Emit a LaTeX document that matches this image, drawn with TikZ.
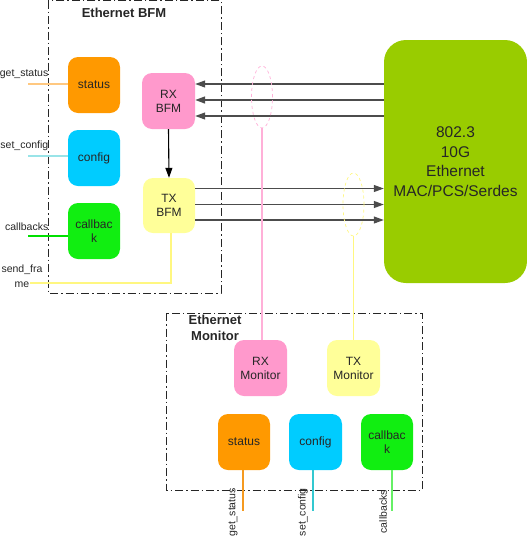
\documentclass[tikz,border=0pt]{standalone}
\usepackage{fontspec}
\setmainfont{Liberation Sans}
\usetikzlibrary{arrows.meta,shapes.geometric}
\definecolor{borange}{HTML}{FF9900}
\definecolor{bcyan}{HTML}{00CCFF}
\definecolor{bgreen}{HTML}{11EE11}
\definecolor{bpink}{HTML}{FF99CC}
\definecolor{byellow}{HTML}{FFFF99}
\definecolor{bigreen}{HTML}{99CC00}
\definecolor{lorange}{HTML}{FFC880}
\definecolor{lcyan}{HTML}{99E4E8}
\definecolor{lgreen}{HTML}{00E000}
\definecolor{morange}{HTML}{F59A20}
\definecolor{mcyan}{HTML}{33C8D0}
\definecolor{mgreen}{HTML}{66F066}
\definecolor{lpink}{HTML}{FFB0D8}
\definecolor{lyellow}{HTML}{FFF780}
\tikzset{
  blk/.style={rectangle, rounded corners=10pt, minimum width=52pt, minimum height=56pt,
    inner sep=1pt, align=center, font=\fontsize{12}{14}\selectfont, text=black!85},
  frame/.style={draw=black!85, line width=0.9pt, dash pattern=on 8pt off 3pt on 1.5pt off 3pt},
  title/.style={font=\fontsize{13}{16}\selectfont\bfseries, text=black!85, align=center},
  lbl/.style={font=\fontsize{10.5}{15}\selectfont, text=black!85, inner sep=0pt, align=center},
  bus/.style={draw=black!70, line width=1.1pt},
  tip/.style={-{Triangle[length=10pt,width=7pt]}},
  wire/.style={line width=1.2pt}
}
\begin{document}
\begin{tikzpicture}[x=1pt,y=-1pt]
\useasboundingbox (0,0) rectangle (527,539);
% frames
\draw[frame] (48,0.6) rectangle (221,293);
\node[title] (bfmt) at (124,13) {Ethernet BFM};
\draw[frame] (166,313) rectangle (422,490);
\node[title] (mont) at (215,328) {Ethernet\\Monitor};
% BFM blocks
\node[blk, fill=borange] (st) at (94,85) {status};
\node[blk, fill=bcyan] (cf) at (94,158) {config};
\node[blk, fill=bgreen] (cb) at (94,231) {callbac\\k};
\node[blk, fill=bpink, minimum width=53pt] (rx) at (168.5,101) {RX\\BFM};
\node[blk, fill=byellow, minimum height=55pt] (tx) at (169,205.5) {TX\\BFM};
% big box
\node[rectangle, rounded corners=22pt, fill=bigreen, minimum width=143pt, minimum height=243pt,
  align=center, font=\fontsize{15.5}{19.5}\selectfont, text=black!85] (mac) at (455.5,161.5)
  {802.3\\10G\\Ethernet\\MAC/PCS/Serdes};
% monitor blocks
\node[blk, fill=bpink, minimum width=53pt] (rxm) at (260.5,368) {RX\\Monitor};
\node[blk, fill=byellow, minimum width=53pt] (txm) at (353.5,368) {TX\\Monitor};
\node[blk, fill=borange] (sm) at (244,442) {status};
\node[blk, fill=bcyan, minimum width=53pt] (cm) at (315.5,442) {config};
\node[blk, fill=bgreen] (cbm) at (387,442) {callbac\\k};
% RX buses
\foreach \y/\w in {84/1.1, 100/1.6, 116/1.1} {
  \draw[bus, line width=\w pt, tip] (mac.west |- 0,\y) -- (rx.east |- 0,\y);
}
% TX buses
\foreach \y/\w in {188.5/1.1, 204.5/1.3, 220/1.1} {
  \draw[bus, line width=\w pt, tip] (tx.east |- 0,\y) -- (mac.west |- 0,\y);
}
% RX -> TX
\draw[black, line width=1.1pt, tip] (rx.south) -- (tx.north);
% left inputs
\coordinate (gs) at (28,84);
\coordinate (sc) at (28,156);
\coordinate (cl) at (28,236);
\coordinate (sf) at (30,283);
\draw[wire, lorange] (gs) -- (gs -| st.west);
\draw[wire, lcyan] (sc) -- (sc -| cf.west);
\draw[wire, lgreen] (cl) -- (cl -| cb.west);
\draw[wire, lyellow] (tx.south -| 171,0) |- (sf);
\node[lbl, anchor=east] (gsl) at (48.5,74) {get\_status};
\node[lbl, anchor=east] (scl) at (48.5,146) {set\_config};
\node[lbl, anchor=east] (cll) at (48.5,227) {callbacks};
\node[lbl] (sfl) at (22,276) {send\_fra\\me};
% monitor taps
\node[ellipse, draw=lpink, dashed, line width=0.7pt, minimum width=21pt, minimum height=62pt, inner sep=0pt] (pe) at (262,97) {};
\node[ellipse, draw=lyellow, dashed, line width=0.7pt, minimum width=21pt, minimum height=63pt, inner sep=0pt] (ye) at (353.5,204.5) {};
\draw[wire, lpink] (pe.south) -- (pe.south |- rxm.north);
\draw[wire, lyellow] (ye.south) -- (ye.south |- txm.north);
% monitor outputs
\coordinate (mgs) at (243,511);
\coordinate (msc) at (313,511);
\coordinate (mcl) at (392,511);
\draw[wire, morange] (sm.south -| mgs) -- (mgs);
\draw[wire, mcyan] (cm.south -| msc) -- (msc);
\draw[wire, mgreen] (cbm.south -| mcl) -- (mcl);
\node[lbl, rotate=90, anchor=east] (mgsl) at (233,488) {get\_status};
\node[lbl, rotate=90, anchor=east] (mscl) at (303,488) {set\_config};
\node[lbl, rotate=90, anchor=east] (mcll) at (383,490) {callbacks};
\end{tikzpicture}
\end{document}
